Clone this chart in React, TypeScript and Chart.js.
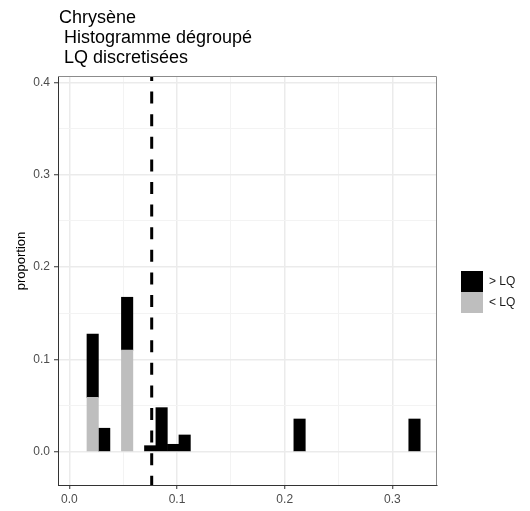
import React, { useEffect, useRef } from 'react';
import { Chart, registerables } from 'chart.js';

Chart.register(...registerables);

// ---- data ----
const titleLines = ['Chrysène', ' Histogramme dégroupé', ' LQ discretisées'];
const yAxisTitle = 'proportion';
const seriesBelow = '< LQ';
const seriesAbove = '> LQ';
const binCenters = [0.0217, 0.0324, 0.0537, 0.0751, 0.0857, 0.0964, 0.1071, 0.2138, 0.3205];
const belowLQ = [0.0589, 0, 0.11, 0, 0, 0, 0, 0, 0];
const aboveLQ = [0.0686, 0.0254, 0.0573, 0.0065, 0.0477, 0.008, 0.0181, 0.0354, 0.0354];
const lqThreshold = 0.0765;
const xMajorTicks = [0, 0.1, 0.2, 0.3];
const xMinorTicks = [0.05, 0.15, 0.25];
const yMajorTicks = [0, 0.1, 0.2, 0.3, 0.4];
const yMinorTicks = [0.05, 0.15, 0.25, 0.35];
const xRange = [-0.0105, 0.3414];
const yRange = [-0.0361, 0.407];

// ---- style ----
const FONT = '"Liberation Sans", Arial, sans-serif';
const BLACK = '#000000';
const GREY = '#BEBEBE';

const isIn = (list: number[], v: number) => list.some((m) => Math.abs(m - v) < 1e-9);

const decorPlugin = {
  id: 'decor',
  afterLayout(chart: any) {
    const lg = chart.legend;
    if (lg) {
      lg.left = 461;
      lg.right = 530;
      lg.top = 271;
      lg.bottom = 511;
    }
  },
  afterDraw(chart: any) {
    const { ctx, chartArea: a } = chart;
    ctx.save();
    ctx.strokeStyle = '#8C8C8C';
    ctx.lineWidth = 1;
    ctx.beginPath();
    ctx.moveTo(a.left, a.top + 0.5);
    ctx.lineTo(a.right - 0.5, a.top + 0.5);
    ctx.lineTo(a.right - 0.5, a.bottom);
    ctx.stroke();

    ctx.fillStyle = '#000';
    ctx.font = '18px ' + FONT;
    ctx.textAlign = 'left';
    ctx.textBaseline = 'alphabetic';
    titleLines.forEach((t, i) => ctx.fillText(t, 59, 23 + i * 20));

    ctx.translate(21, 261);
    ctx.rotate(-Math.PI / 2);
    ctx.font = '13px ' + FONT;
    ctx.textAlign = 'center';
    ctx.textBaseline = 'middle';
    ctx.fillText(yAxisTitle, 0, 0);
    ctx.restore();
  },
};

function gridFor(majors: number[]) {
  return {
    offset: false,
    color: (c: any) => (isIn(majors, c.tick?.value) ? '#EBEBEB' : '#F3F3F3'),
    lineWidth: (c: any) => (isIn(majors, c.tick?.value) ? 1.5 : 1),
    tickColor: (c: any) => (isIn(majors, c.tick?.value) ? '#333333' : 'rgba(0,0,0,0)'),
    tickWidth: 1,
    tickLength: 4,
    drawTicks: true,
  };
}

export default function App() {
  const ref = useRef<HTMLCanvasElement>(null);

  useEffect(() => {
    const canvas = ref.current;
    if (!canvas) return;
    const chart = new Chart(canvas, {
      type: 'bar',
      data: {
        datasets: [
          {
            type: 'line',
            label: 'LQ',
            data: [
              { x: lqThreshold, y: yRange[1] },
              { x: lqThreshold, y: yRange[0] },
            ],
            borderColor: BLACK,
            borderWidth: 3,
            borderDash: [12, 10.6],
            borderDashOffset: 7,
            pointRadius: 0,
            fill: false,
            order: -1,
            stack: 'lq',
          } as any,
          {
            label: seriesBelow,
            data: binCenters.map((x, i) => ({ x, y: belowLQ[i] })),
            backgroundColor: GREY,
            borderWidth: 0,
            stack: 'h',
          },
          {
            label: seriesAbove,
            data: binCenters.map((x, i) => ({ x, y: aboveLQ[i] })),
            backgroundColor: BLACK,
            borderWidth: 0,
            stack: 'h',
          },
        ],
      },
      options: {
        responsive: false,
        animation: false,
        layout: { padding: { top: 76, left: 0, right: 93, bottom: 0 } },
        datasets: { bar: { barPercentage: 1, categoryPercentage: 1 } },
        plugins: {
          title: { display: false },
          tooltip: { enabled: false },
          legend: {
            position: 'chartArea',
            align: 'start',
            reverse: true,
            labels: {
              filter: (item: any) => item.text !== 'LQ',
              boxWidth: 22,
              boxHeight: 21,
              padding: 0,
              textAlign: 'left',
              color: '#1A1A1A',
              font: { family: FONT, size: 12 },
            },
          },
        },
        scales: {
          x: {
            type: 'linear',
            stacked: true,
            offset: false,
            min: xRange[0],
            max: xRange[1],
            afterBuildTicks: (s: any) => {
              s.ticks = [...xMajorTicks, ...xMinorTicks].sort((p, q) => p - q).map((v) => ({ value: v }));
            },
            afterFit: (s: any) => {
              s.height = 26;
            },
            ticks: {
              autoSkip: false,
              maxRotation: 0,
              padding: 3,
              color: '#4D4D4D',
              font: { family: FONT, size: 12 },
              callback: (v: any) => (isIn(xMajorTicks, Number(v)) ? Number(v).toFixed(1) : ''),
            },
            grid: gridFor(xMajorTicks) as any,
            border: { display: true, color: '#333333', width: 1 },
          },
          y: {
            type: 'linear',
            stacked: true,
            min: yRange[0],
            max: yRange[1],
            afterBuildTicks: (s: any) => {
              s.ticks = [...yMajorTicks, ...yMinorTicks].sort((p, q) => p - q).map((v) => ({ value: v }));
            },
            afterFit: (s: any) => {
              s.width = 58;
            },
            ticks: {
              autoSkip: false,
              padding: 4,
              color: '#4D4D4D',
              font: { family: FONT, size: 12 },
              callback: (v: any) => (isIn(yMajorTicks, Number(v)) ? Number(v).toFixed(1) : ''),
            },
            grid: gridFor(yMajorTicks) as any,
            border: { display: true, color: '#333333', width: 1 },
          },
        },
      } as any,
      plugins: [decorPlugin],
    });
    return () => chart.destroy();
  }, []);

  return (
    <div style={{ position: 'fixed', left: 0, top: 0, width: 530, height: 511, background: '#ffffff' }}>
      <canvas ref={ref} width={530} height={511} />
    </div>
  );
}
